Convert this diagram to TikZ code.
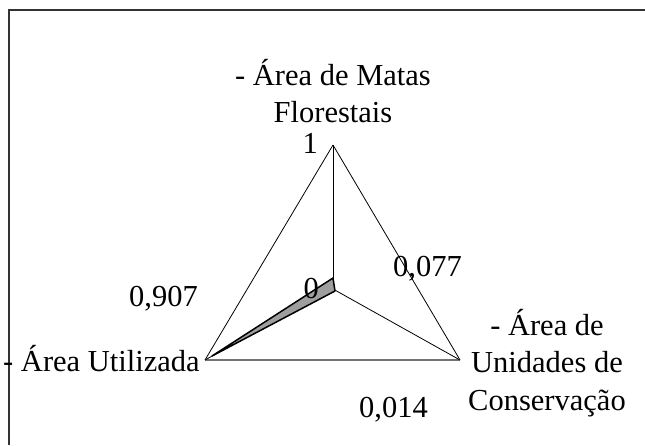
\documentclass[tikz,border=0pt]{standalone}
\usepackage{fontspec}
\setmainfont{Liberation Serif}
\begin{document}
\begin{tikzpicture}[x=1pt,y=-1pt,
  lbl/.style={inner sep=0pt, font=\fontsize{30.5}{37.5}\selectfont},
  axisline/.style={black, line width=0.8pt},
  frameline/.style={black!80, line width=2pt},
  dataarea/.style={fill=black!38, draw=black, line width=1.5pt, line join=round}]
\useasboundingbox (0,0) rectangle (645,445);
% frame
\coordinate (fr1) at (645,10);
\coordinate (fr2) at (8.5,10);
\coordinate (fr3) at (8.5,445);
\draw[frameline] (fr1) -- (fr2) -- (fr3);
% radar
\coordinate (c) at (333,289);
\coordinate (top) at (333,145);
\coordinate (lft) at (205,360);
\coordinate (rgt) at (460,360);
\draw[axisline] (top) -- (lft);
\draw[axisline] (top) -- (rgt);
\draw[black!55, line width=1.8pt] (lft) -- (rgt);
\draw[axisline] (c) -- (top);
\draw[axisline] (c) -- (rgt);
\draw[axisline] (c) -- (lft);
% data
\coordinate (d1) at (333,278);
\coordinate (d2) at (212,356);
\coordinate (d3) at (335,291);
\draw[dataarea] (d1) -- (d2) -- (d3) -- cycle;
% labels
\node[lbl, anchor=base] (ltop) at (333,85) {\begin{tabular}[t]{@{}c@{}}- Área de Matas\\Florestais\end{tabular}};
\node[lbl, anchor=base east] (one) at (318,153) {1};
\node[lbl, anchor=base east] (zero) at (319,298) {0};
\node[lbl, anchor=base west] (v077) at (393,276) {0,077};
\node[lbl, anchor=base east] (v907) at (198,306) {0,907};
\node[lbl, anchor=base east] (v014) at (428,417) {0,014};
\node[lbl, anchor=base west] (lleft) at (3,371) {- Área Utilizada};
\node[lbl, anchor=base] (lright) at (547,335) {\begin{tabular}[t]{@{}c@{}}- Área de\\Unidades de\\Conservação\end{tabular}};
\end{tikzpicture}
\end{document}
